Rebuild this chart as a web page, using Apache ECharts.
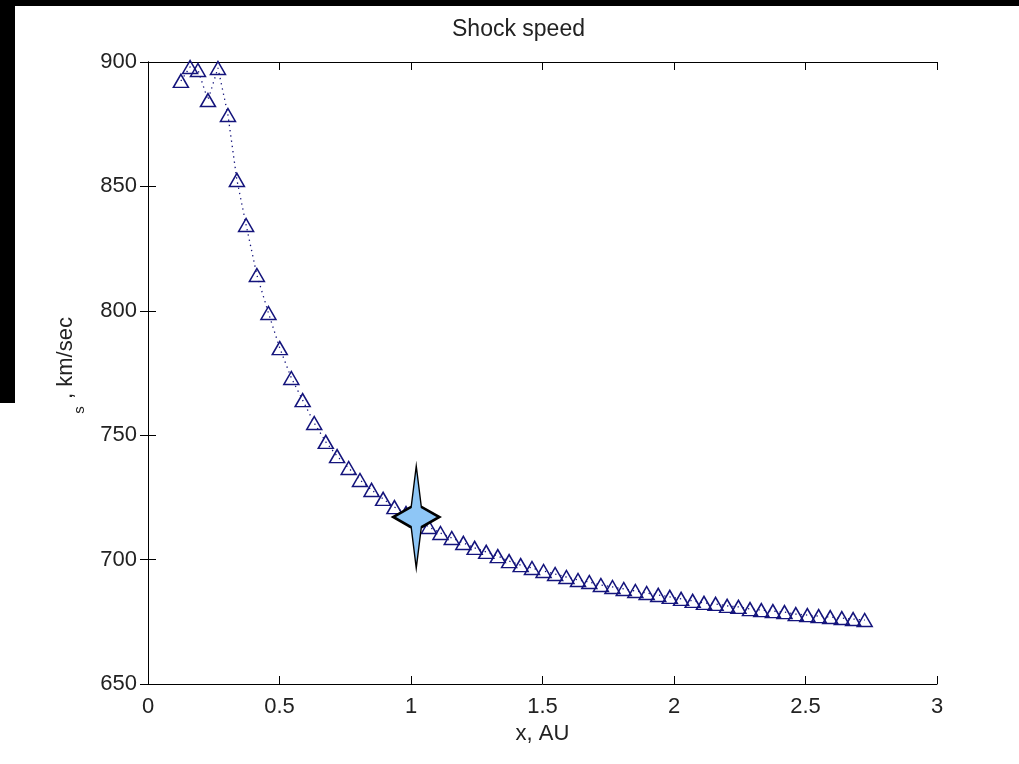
<!DOCTYPE html>
<html>
<head>
<meta charset="utf-8">
<title>Shock speed</title>
<script src="https://cdn.jsdelivr.net/npm/echarts@6/dist/echarts.min.js"></script>
<style>
  html, body { margin: 0; padding: 0; background: #fff; }
  #chart { width: 1019px; height: 764px; }
</style>
</head>
<body>
<div id="chart"></div>
<script>
// shock position (AU) and speed (km/sec)
const distanceAU = [
  0.125, 0.160, 0.190, 0.228, 0.266, 0.304, 0.338, 0.373,
  0.414, 0.458, 0.501, 0.545, 0.588, 0.632, 0.676, 0.719, 0.763, 0.806,
  0.850, 0.894, 0.937, 0.981, 1.024, 1.068, 1.112, 1.155, 1.199, 1.242,
  1.286, 1.330, 1.373, 1.417, 1.460, 1.504, 1.548, 1.591, 1.635, 1.678,
  1.722, 1.766, 1.809, 1.853, 1.896, 1.940, 1.984, 2.027, 2.071, 2.114,
  2.158, 2.202, 2.245, 2.289, 2.332, 2.376, 2.420, 2.463, 2.507, 2.550,
  2.594, 2.638, 2.681, 2.725
];
const shockSpeed = [
  892.4, 898.0, 896.8, 884.7, 897.6, 878.7, 852.6, 834.5,
  814.4, 799.1, 785.0, 773.0, 764.1, 754.9, 747.3, 741.6, 736.8, 732.0,
  728.0, 724.4, 721.1, 718.7, 715.9, 713.1, 710.7, 708.7, 706.7, 704.7,
  703.1, 701.4, 699.4, 697.8, 696.6, 695.4, 694.2, 693.0, 691.8, 691.0,
  689.8, 689.0, 688.2, 687.4, 686.6, 685.8, 685.0, 684.2, 683.4, 682.6,
  682.2, 681.4, 681.0, 680.1, 679.7, 679.3, 678.9, 678.1, 677.7, 677.3,
  676.9, 676.5, 676.1, 675.7
];
// the highlighted point (star)
const starX = [1.02];
const starY = [717.1];

const xTicks = { min: 0, max: 3, interval: 0.5 };
const yTicks = { min: 650, max: 900, interval: 50 };

const navy = "#14147c";
const font = "'Liberation Sans', Arial, sans-serif";

const chart = echarts.init(document.getElementById("chart"));

const frameAxis = {
  axisLine: { show: true, lineStyle: { color: "#000", width: 1 } },
  axisTick: { show: true, inside: true, length: 8, lineStyle: { color: "#000" } },
  splitLine: { show: false },
};

const option = {
  animation: false,
  backgroundColor: "#fff",
  title: {
    text: "Shock speed",
    left: 447,
    top: 13,
    textStyle: { fontFamily: font, fontSize: 23, fontWeight: "normal", color: "#222" },
  },
  grid: { left: 148, right: 82, top: 62, bottom: 80 },
  xAxis: [
    {
      type: "value",
      position: "bottom",
      ...xTicks,
      ...frameAxis,
      name: "x, AU",
      nameLocation: "middle",
      nameGap: 35,
      nameTextStyle: { fontFamily: font, fontSize: 22, color: "#222" },
      axisLabel: { fontFamily: font, fontSize: 22, color: "#222", margin: 12 },
    },
    {
      type: "value",
      position: "top",
      ...xTicks,
      ...frameAxis,
      axisLabel: { show: false },
    },
  ],
  yAxis: [
    {
      type: "value",
      position: "left",
      ...yTicks,
      ...frameAxis,
      axisLabel: { fontFamily: font, fontSize: 22, color: "#222", margin: 11 },
    },
    {
      type: "value",
      position: "right",
      ...yTicks,
      ...frameAxis,
      axisLabel: { show: false },
    },
  ],
  graphic: [
    // black scan edges of the original picture
    { type: "rect", shape: { x: 0, y: 0, width: 1019, height: 6 }, style: { fill: "#000" } },
    { type: "rect", shape: { x: 0, y: 0, width: 15, height: 403 }, style: { fill: "#000" } },
    {
      type: "text",
      x: 66,
      y: 358,
      rotation: Math.PI / 2,
      style: {
        text: ", km/sec",
        font: "22px " + font,
        fill: "#222",
        textAlign: "center",
        textVerticalAlign: "middle",
      },
    },
    {
      type: "text",
      x: 80,
      y: 410,
      rotation: Math.PI / 2,
      style: {
        text: "s",
        font: "15px " + font,
        fill: "#222",
        textAlign: "center",
        textVerticalAlign: "middle",
      },
    },
  ],
  series: [
    {
      type: "line",
      name: "speed",
      data: distanceAU.map((x, i) => [x, shockSpeed[i]]),
      showAllSymbol: true,
      symbol: "triangle",
      symbolSize: [15, 13],
      itemStyle: { color: "rgba(0,0,0,0)", borderColor: navy, borderWidth: 1.5 },
      lineStyle: { color: navy, width: 1.3, type: [1.3, 4] },
      clip: false,
      z: 2,
    },
    {
      type: "scatter",
      name: "marker",
      data: starX.map((x, i) => [x, starY[i]]),
      symbol: "path://M0,-1 L0.22,-0.2 L1,0 L0.22,0.2 L0,1 L-0.22,0.2 L-1,0 L-0.22,-0.2 Z",
      symbolSize: [46, 102],
      itemStyle: { color: "#8ec6f6", borderColor: "#000", borderWidth: 2, opacity: 1 },
      z: 5,
    },
  ],
};

chart.setOption(option);
</script>
</body>
</html>
